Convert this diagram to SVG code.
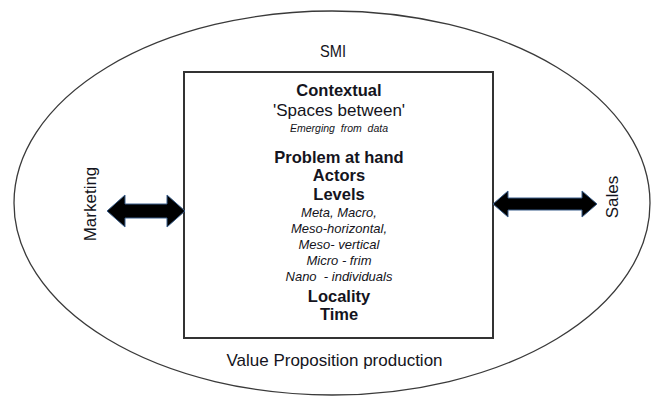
<svg xmlns="http://www.w3.org/2000/svg" width="651" height="397" viewBox="0 0 651 397">
<style>
text{font-family:"Liberation Sans",Arial,sans-serif;fill:#141420;text-anchor:middle}
.b{font-weight:bold;font-size:16.5px}
.r{font-size:17px}
.i{font-style:italic;font-size:13px}
.s{font-style:italic;font-size:10.5px;white-space:pre}
.arrow{fill:#000;stroke:#385d8a;stroke-width:1;stroke-linejoin:miter}
</style>
<rect width="651" height="397" fill="#fff"/>
<g id="smi">
<ellipse cx="332" cy="203" rx="318" ry="192" fill="none" stroke="#3a3a3a" stroke-width="1.3"/>
<text class="r" x="333" y="57" textLength="26" lengthAdjust="spacingAndGlyphs">SMI</text>
<text class="r" x="334.5" y="366">Value Proposition production</text>
</g>
<g id="marketing">
<text class="r" transform="translate(96,204) rotate(-90)">Marketing</text>
</g>
<g id="sales">
<text class="r" transform="translate(618,197) rotate(-90)">Sales</text>
</g>
<g id="contextual">
<rect x="184" y="72" width="309" height="266" fill="#fff" stroke="#333" stroke-width="2"/>
<text class="b" x="339" y="96">Contextual</text>
<text class="r" x="339" y="116">'Spaces between'</text>
<text class="s" x="339" y="132">Emerging  from  data</text>
<text class="b" x="339" y="163">Problem at hand</text>
<text class="b" x="339" y="181">Actors</text>
<text class="b" x="339" y="200">Levels</text>
<text class="i" x="339" y="217">Meta, Macro,</text>
<text class="i" x="339" y="233">Meso-horizontal,</text>
<text class="i" x="339" y="249">Meso- vertical</text>
<text class="i" x="339" y="265">Micro - frim</text>
<text class="i" x="339" y="281" style="white-space:pre">Nano  - individuals</text>
<text class="b" x="339" y="302">Locality</text>
<text class="b" x="339" y="320">Time</text>
</g>
<g id="connectors">
<polygon class="arrow" points="107,211 125,195 125,204 167,204 167,195 185,211 167,227 167,218 125,218 125,227"/>
<polygon class="arrow" points="493,204 508,191 508,198 582,198 582,191 597,204 582,217 582,210 508,210 508,217"/>
</g>
</svg>
